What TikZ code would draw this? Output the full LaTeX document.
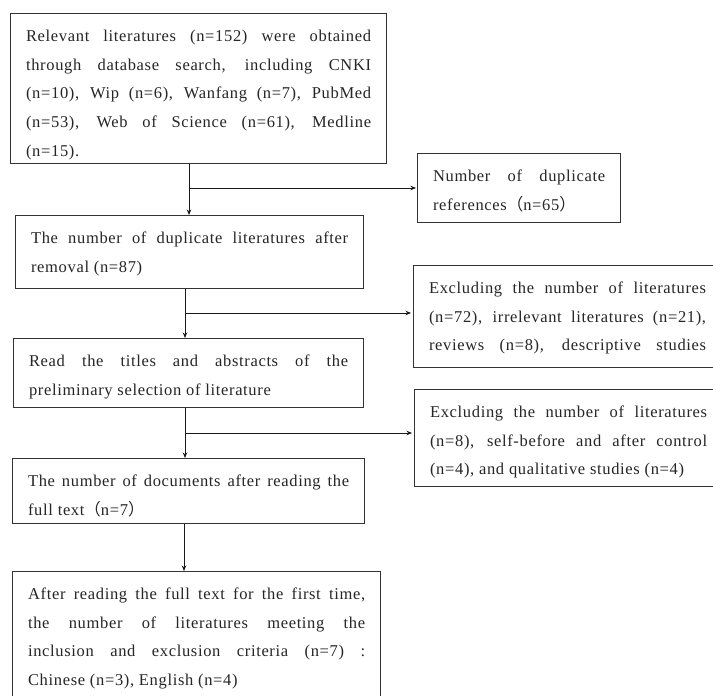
\documentclass[tikz,border=0pt]{standalone}
\usepackage{fontspec}
\setmainfont{Liberation Serif}[LetterSpace=4]
\newfontfamily\cjk{Noto Sans CJK SC}
\usetikzlibrary{arrows.meta}
\newcommand{\jw}{\linewidth}
\newcommand{\jline}[1]{\makebox[\jw][s]{#1}\par}
\newcommand{\fpl}{{\cjk （}}
\newcommand{\fpr}{{\cjk ）}}
\newcommand{\boxtext}[3]{\parbox[c][#2pt][t]{#1pt}{\fontsize{16.5}{28.6}\selectfont\rule{0pt}{28pt}#3}}
\tikzset{
  flowbox/.style={draw=black!80, line width=1.2pt, inner xsep=15.5pt, inner ysep=0pt,
    anchor=north west, text=black!85},
  arr/.style={draw=black!90, line width=0.9pt, -{Stealth[length=5.5pt,width=4.5pt]}}
}
\begin{document}
\begin{tikzpicture}[x=1pt,y=-1pt]
\useasboundingbox (0,0) rectangle (713,696);
\fill[white] (0,0) rectangle (713,696);

\node[flowbox] (b1) at (10,13) {\boxtext{345}{150}{%
\jline{Relevant literatures (n=152) were obtained}%
\jline{through database search, including CNKI}%
\jline{(n=10), Wip (n=6), Wanfang (n=7), PubMed}%
\jline{(n=53), Web of Science (n=61), Medline}%
(n=15).}};

\node[flowbox] (r1) at (417,153) {\boxtext{172}{69}{%
\jline{Number of duplicate}%
references\fpl n=65\fpr}};

\node[flowbox] (b2) at (15,215) {\boxtext{317}{73}{%
\jline{The number of duplicate literatures after}%
removal (n=87)}};

\node[flowbox] (r2) at (413,265) {\boxtext{320}{102}{\renewcommand{\jw}{277pt}%
\jline{Excluding the number of literatures}%
\jline{(n=72), irrelevant literatures (n=21),}%
\jline{reviews (n=8), descriptive studies}}};

\node[flowbox] (b3) at (13,338) {\boxtext{319}{69}{%
\jline{Read the titles and abstracts of the}%
preliminary selection of literature}};

\node[flowbox] (r3) at (414,389) {\boxtext{320}{97}{\renewcommand{\jw}{277pt}%
\jline{Excluding the number of literatures}%
\jline{(n=8), self-before and after control}%
(n=4), and qualitative studies (n=4)}};

\node[flowbox] (b4) at (12,458) {\boxtext{321}{65}{%
\jline{The number of documents after reading the}%
full text\fpl n=7\fpr}};

\node[flowbox] (b5) at (12,571) {\boxtext{337}{140}{%
\jline{After reading the full text for the first time,}%
\jline{the number of literatures meeting the}%
\jline{inclusion and exclusion criteria (n=7) :}%
Chinese (n=3), English (n=4)}};

\coordinate (k1) at (189,0);
\coordinate (k2) at (185,0);
\coordinate (k3) at (185,0);
\coordinate (k4) at (184,0);
\coordinate (j1) at (189,188);
\coordinate (j2) at (185,313);
\coordinate (j3) at (185,433);

\draw[arr] (b1.south -| k1) -- (b2.north -| k1);
\draw[arr] (j1) -- ([xshift=-1pt]j1 -| r1.west);
\draw[arr] (b2.south -| k2) -- (b3.north -| k2);
\draw[arr] (j2) -- ([xshift=-2pt]j2 -| r2.west);
\draw[arr] (b3.south -| k3) -- (b4.north -| k3);
\draw[arr] (j3) -- ([xshift=-2pt]j3 -| r3.west);
\draw[arr] (b4.south -| k4) -- (b5.north -| k4);
\end{tikzpicture}
\end{document}
